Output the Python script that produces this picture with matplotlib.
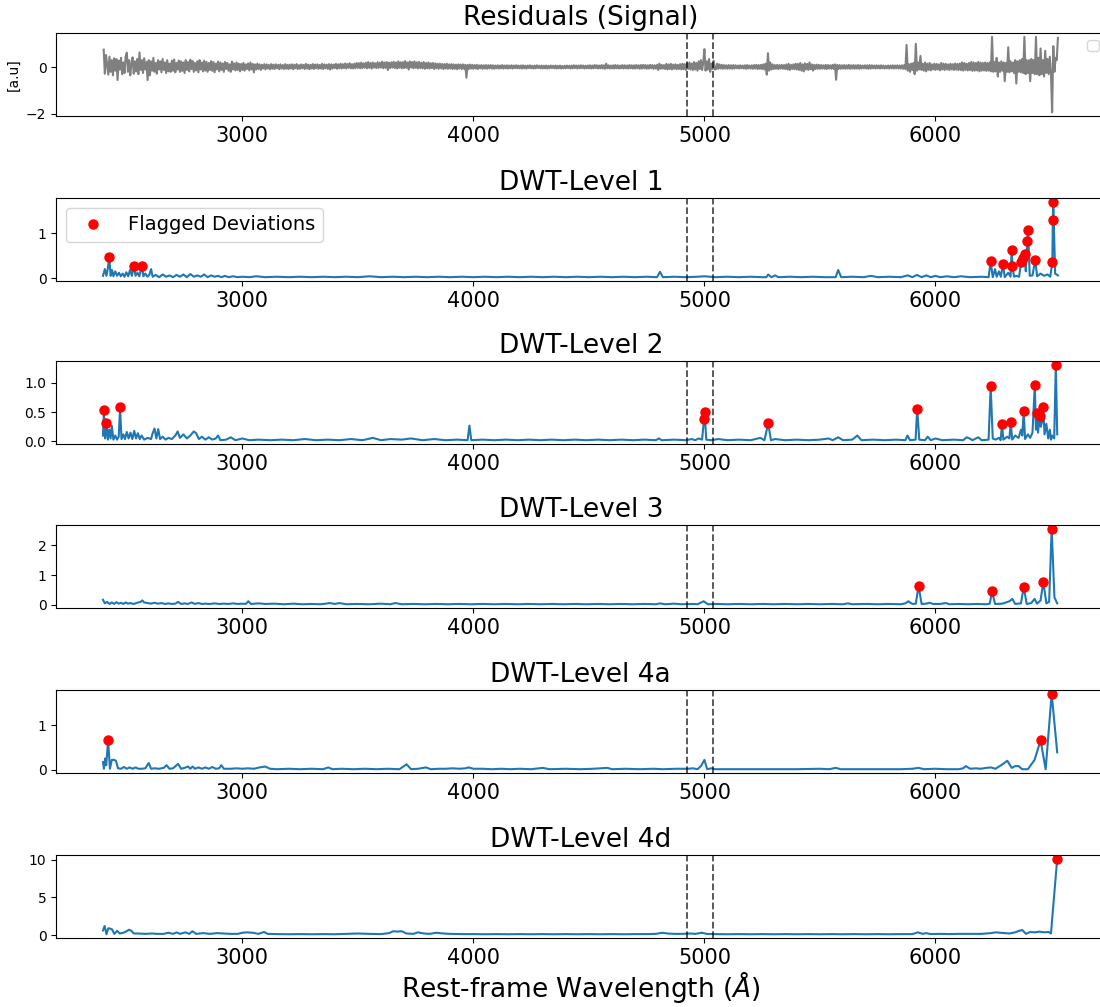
import numpy as np
import matplotlib
matplotlib.use("Agg")
import matplotlib.pyplot as plt

# residual signal, one value every 5 A from 2400 to 6530 A (one row = 50 A)
residual_start = 2400
residual_step = 5
residual_values = [
    0.75, -0.28, 0.52, 0.10, -0.32, 0.45, -0.20, 0.30, -0.35, 0.38,
    -0.15, 0.35, -0.55, 0.28, -0.10, 0.40, -0.30, 0.20, -0.25, 0.45,
    0.62, -0.20, 0.30, -0.35, 0.15, 0.42, -0.28, 0.25, -0.18, 0.35,
    -0.30, 0.63, -0.12, 0.30, -0.25, 0.38, -0.10, 0.22, -0.55, 0.30,
    -0.35, 0.25, -0.15, 0.40, -0.20, 0.18, -0.28, 0.30, -0.10, 0.25,
    -0.22, 0.35, -0.12, 0.20, -0.25, 0.30, -0.18, 0.15, -0.20, 0.28,
    -0.15, 0.33, -0.22, 0.18, -0.10, 0.28, -0.20, 0.25, -0.16, 0.20,
    -0.25, 0.30, -0.12, 0.22, -0.18, 0.32, -0.08, 0.26, -0.20, 0.18,
    -0.14, 0.25, -0.22, 0.30, -0.10, 0.20, -0.18, 0.28, -0.15, 0.22,
    -0.20, 0.18, -0.12, 0.26, -0.16, 0.22, -0.22, 0.15, -0.10, 0.24,
    -0.18, 0.20, -0.12, 0.16, -0.20, 0.22, -0.08, 0.18, -0.15, 0.12,
    -0.20, 0.24, -0.10, 0.16, -0.14, 0.20, -0.12, 0.15, -0.18, 0.14,
    -0.12, 0.18, -0.15, 0.12, -0.08, 0.16, -0.14, 0.20, -0.10, 0.14,
    -0.22, 0.12, -0.10, 0.15, -0.08, 0.12, -0.12, 0.10, -0.06, 0.13,
    -0.10, 0.12, -0.06, 0.10, -0.09, 0.13, -0.07, 0.11, -0.08, 0.12,
    -0.05, 0.10, -0.09, 0.12, -0.06, 0.09, -0.08, 0.13, -0.07, 0.10,
    -0.08, 0.11, -0.06, 0.12, -0.09, 0.10, -0.05, 0.13, -0.08, 0.09,
    -0.07, 0.12, -0.05, 0.10, -0.08, 0.14, -0.06, 0.11, -0.09, 0.10,
    -0.06, 0.13, -0.08, 0.11, -0.05, 0.12, -0.07, 0.10, -0.06, 0.14,
    -0.08, 0.12, -0.05, 0.11, -0.07, 0.13, -0.10, 0.12, -0.06, 0.11,
    -0.04, 0.14, -0.07, 0.12, -0.05, 0.15, -0.06, 0.13, -0.04, 0.16,
    -0.06, 0.14, -0.03, 0.17, -0.05, 0.13, -0.06, 0.15, -0.04, 0.18,
    -0.03, 0.17, -0.05, 0.20, -0.04, 0.16, -0.02, 0.19, -0.05, 0.22,
    -0.03, 0.18, -0.06, 0.20, -0.02, 0.17, -0.04, 0.21, -0.03, 0.19,
    -0.02, 0.24, -0.05, 0.20, -0.03, 0.22, -0.12, 0.19, -0.04, 0.21,
    -0.02, 0.23, -0.04, 0.20, -0.06, 0.25, -0.03, 0.21, -0.05, 0.22,
    -0.04, 0.26, -0.03, 0.20, -0.10, 0.24, -0.02, 0.22, -0.05, 0.25,
    -0.03, 0.21, -0.06, 0.23, -0.04, 0.19, -0.05, 0.22, -0.07, 0.18,
    -0.05, 0.20, -0.06, 0.17, -0.04, 0.18, -0.08, 0.16, -0.05, 0.15,
    -0.07, 0.15, -0.05, 0.14, -0.08, 0.13, -0.06, 0.15, -0.07, 0.12,
    -0.06, 0.13, -0.08, 0.12, -0.07, 0.11, -0.09, 0.12, -0.06, 0.11,
    -0.08, 0.12, -0.07, 0.10, -0.45, 0.10, -0.08, 0.11, -0.06, 0.10,
    -0.07, 0.09, -0.06, 0.10, -0.08, 0.08, -0.05, 0.09, -0.07, 0.08,
    -0.06, 0.09, -0.07, 0.08, -0.05, 0.09, -0.06, 0.08, -0.07, 0.07,
    -0.05, 0.08, -0.06, 0.07, -0.05, 0.09, -0.06, 0.07, -0.05, 0.08,
    -0.06, 0.07, -0.05, 0.08, -0.06, 0.07, -0.04, 0.08, -0.05, 0.07,
    -0.05, 0.07, -0.06, 0.08, -0.05, 0.06, -0.06, 0.07, -0.04, 0.08,
    -0.05, 0.06, -0.06, 0.07, -0.05, 0.08, -0.04, 0.06, -0.05, 0.07,
    -0.06, 0.06, -0.05, 0.07, -0.06, 0.06, -0.05, 0.07, -0.04, 0.06,
    -0.05, 0.07, -0.06, 0.06, -0.05, 0.07, -0.06, 0.05, -0.05, 0.06,
    -0.05, 0.07, -0.04, 0.06, -0.06, 0.07, -0.05, 0.08, -0.04, 0.07,
    -0.06, 0.07, -0.05, 0.08, -0.04, 0.07, -0.06, 0.06, -0.05, 0.07,
    -0.05, 0.08, -0.06, 0.07, -0.05, 0.09, -0.04, 0.08, -0.06, 0.07,
    -0.05, 0.09, -0.06, 0.08, -0.07, 0.15, -0.05, 0.08, -0.06, 0.07,
    -0.05, 0.08, -0.06, 0.09, -0.05, 0.08, -0.06, 0.07, -0.05, 0.09,
    -0.06, 0.08, -0.05, 0.07, -0.06, 0.09, -0.05, 0.08, -0.06, 0.08,
    -0.06, 0.09, -0.05, 0.08, -0.07, 0.09, -0.06, 0.10, -0.05, 0.09,
    -0.07, 0.08, -0.06, 0.10, -0.05, 0.09, -0.07, 0.08, -0.06, 0.10,
    -0.12, 0.15, -0.07, 0.10, -0.06, 0.09, -0.08, 0.14, -0.10, 0.12,
    -0.08, 0.14, -0.10, 0.11, -0.07, 0.12, -0.09, 0.10, -0.08, 0.13,
    -0.10, 0.15, -0.09, 0.13, -0.12, 0.18, -0.08, 0.20, -0.10, 0.16,
    -0.12, 0.22, -0.10, 0.18, -0.15, 0.25, -0.08, 0.30, -0.12, 0.20,
    0.77, -0.15, 0.25, -0.10, 0.35, -0.20, 0.15, -0.08, 0.28, -0.10,
    -0.08, 0.15, -0.07, 0.12, -0.06, 0.10, -0.07, 0.09, -0.06, 0.08,
    -0.07, 0.09, -0.06, 0.08, -0.07, 0.09, -0.06, 0.08, -0.05, 0.07,
    -0.06, 0.08, -0.05, 0.07, -0.06, 0.08, -0.07, 0.09, -0.06, 0.07,
    -0.06, 0.08, -0.07, 0.09, -0.06, 0.10, -0.08, 0.09, -0.07, 0.10,
    -0.08, 0.12, -0.10, 0.15, -0.32, 0.60, -0.15, 0.20, -0.10, 0.12,
    -0.08, 0.09, -0.07, 0.10, -0.08, 0.09, -0.06, 0.10, -0.07, 0.09,
    -0.08, 0.12, -0.10, 0.14, -0.12, 0.10, -0.08, 0.12, -0.09, 0.15,
    -0.10, 0.14, -0.12, 0.18, -0.15, 0.12, -0.18, 0.16, -0.10, 0.14,
    -0.12, 0.20, -0.09, 0.12, -0.15, 0.10, -0.08, 0.11, -0.07, 0.10,
    -0.07, 0.09, -0.06, 0.08, -0.07, 0.10, -0.08, 0.09, -0.06, 0.08,
    -0.07, 0.10, -0.08, 0.12, -0.54, 0.10, -0.08, 0.09, -0.07, 0.08,
    -0.06, 0.09, -0.07, 0.08, -0.06, 0.10, -0.07, 0.08, -0.06, 0.09,
    -0.07, 0.08, -0.06, 0.09, -0.07, 0.08, -0.06, 0.07, -0.05, 0.08,
    -0.06, 0.08, -0.07, 0.09, -0.06, 0.08, -0.05, 0.07, -0.06, 0.08,
    -0.05, 0.07, -0.06, 0.08, -0.05, 0.07, -0.06, 0.06, -0.05, 0.07,
    -0.06, 0.07, -0.05, 0.08, -0.06, 0.07, -0.05, 0.08, -0.06, 0.07,
    -0.06, 0.08, -0.07, 0.09, -0.08, 0.95, -0.15, 0.12, -0.20, 0.15,
    -0.12, 0.18, -0.30, 1.00, -0.15, 0.20, -0.10, 0.48, -0.12, 0.15,
    -0.15, 0.20, -0.18, 0.15, -0.12, 0.18, -0.14, 0.12, -0.10, 0.15,
    -0.12, 0.14, -0.10, 0.12, -0.14, 0.18, -0.10, 0.15, -0.12, 0.14,
    -0.10, 0.12, -0.12, 0.15, -0.10, 0.13, -0.12, 0.16, -0.11, 0.14,
    -0.12, 0.16, -0.13, 0.20, -0.15, 0.18, -0.12, 0.15, -0.14, 0.18,
    -0.13, 0.22, -0.16, 0.20, -0.15, 0.18, -0.14, 0.22, -0.18, 0.20,
    -0.15, 0.18, -0.14, 0.20, -0.16, 0.18, -0.15, 0.20, -0.18, 1.30,
    -0.20, 0.22, -0.18, 0.40, -0.40, 0.20, -0.20, 0.25, -0.15, 0.20,
    -0.60, 0.18, -0.20, 0.85, -0.22, 0.25, -0.18, 0.20, -0.25, 0.30,
    -0.70, 0.25, -0.20, 0.30, -0.22, 0.35, -0.25, 1.30, -0.30, 0.30,
    -0.25, 0.30, -0.60, 0.35, -0.25, 0.30, -0.30, 1.30, -0.30, 0.40,
    -0.35, 0.80, -0.30, 0.30, -0.40, 0.70, -0.25, 0.35, -0.30, 0.45,
    -0.30, -1.93, 0.90, -0.20, 0.40, 0.30, 1.25,
]

# DWT detail coefficients as (wavelength, value)
level1 = [
    (2397, 0.05), (2405, 0.20), (2412, 0.05), (2418, 0.22), (2424, 0.46), (2430, 0.05), (2436, 0.18), (2442, 0.04),
    (2450, 0.15), (2458, 0.05), (2466, 0.12), (2474, 0.04), (2482, 0.10), (2490, 0.03), (2498, 0.13), (2506, 0.04),
    (2514, 0.18), (2522, 0.05), (2530, 0.27), (2538, 0.05), (2546, 0.12), (2554, 0.04), (2565, 0.27), (2572, 0.04),
    (2580, 0.10), (2590, 0.03), (2598, 0.08), (2605, 0.20), (2612, 0.03), (2625, 0.07), (2640, 0.02), (2655, 0.08),
    (2670, 0.03), (2685, 0.06), (2700, 0.02), (2715, 0.07), (2730, 0.03), (2745, 0.08), (2760, 0.02), (2775, 0.09),
    (2790, 0.03), (2805, 0.06), (2820, 0.03), (2835, 0.08), (2850, 0.02), (2865, 0.06), (2880, 0.03), (2895, 0.05),
    (2910, 0.02), (2925, 0.05), (2940, 0.02), (2960, 0.04), (2980, 0.02), (3000, 0.03), (3030, 0.02), (3060, 0.04),
    (3100, 0.02), (3150, 0.03), (3200, 0.02), (3250, 0.03), (3300, 0.02), (3350, 0.03), (3400, 0.02), (3450, 0.03),
    (3500, 0.02), (3550, 0.04), (3600, 0.02), (3650, 0.03), (3700, 0.02), (3750, 0.03), (3800, 0.02), (3850, 0.03),
    (3900, 0.02), (3950, 0.03), (4000, 0.02), (4050, 0.03), (4100, 0.02), (4150, 0.03), (4200, 0.02), (4250, 0.03),
    (4300, 0.02), (4350, 0.03), (4400, 0.02), (4450, 0.03), (4500, 0.02), (4550, 0.03), (4600, 0.02), (4650, 0.03),
    (4700, 0.02), (4750, 0.03), (4795, 0.02), (4808, 0.14), (4820, 0.02), (4870, 0.03), (4920, 0.02), (4970, 0.03),
    (5000, 0.04), (5050, 0.02), (5100, 0.03), (5150, 0.02), (5200, 0.03), (5250, 0.02), (5268, 0.02), (5276, 0.08),
    (5290, 0.02), (5306, 0.06), (5320, 0.02), (5370, 0.03), (5420, 0.02), (5470, 0.03), (5520, 0.02), (5568, 0.02),
    (5579, 0.18), (5592, 0.02), (5640, 0.03), (5690, 0.02), (5720, 0.05), (5750, 0.02), (5800, 0.03), (5850, 0.02),
    (5880, 0.06), (5900, 0.02), (5920, 0.07), (5940, 0.02), (5960, 0.06), (5980, 0.02), (6000, 0.05), (6020, 0.02),
    (6050, 0.04), (6080, 0.02), (6110, 0.04), (6150, 0.02), (6200, 0.03), (6230, 0.02), (6239, 0.37), (6248, 0.02),
    (6258, 0.20), (6265, 0.03), (6275, 0.15), (6283, 0.03), (6292, 0.31), (6300, 0.02), (6315, 0.12), (6325, 0.03),
    (6330, 0.63), (6333, 0.28), (6340, 0.03), (6350, 0.05), (6362, 0.03), (6371, 0.36), (6379, 0.44), (6386, 0.53),
    (6391, 0.15), (6397, 0.82), (6401, 1.07), (6408, 0.05), (6420, 0.06), (6432, 0.41), (6440, 0.04), (6455, 0.10),
    (6470, 0.05), (6485, 0.08), (6497, 0.03), (6506, 0.36), (6508, 1.30), (6510, 1.70), (6518, 0.10), (6530, 0.06),
]
flags1 = [
    (2424, 0.46), (2530, 0.27), (2565, 0.27), (6239, 0.37), (6292, 0.31), (6330, 0.63), (6333, 0.28), (6371, 0.36),
    (6379, 0.44), (6386, 0.53), (6397, 0.82), (6401, 1.07), (6432, 0.41), (6506, 0.36), (6508, 1.30), (6510, 1.70),
]

level2 = [
    (2397, 0.10), (2401, 0.54), (2406, 0.05), (2412, 0.32), (2418, 0.03), (2424, 0.20), (2430, 0.05), (2435, 0.27),
    (2442, 0.03), (2450, 0.10), (2458, 0.03), (2465, 0.08), (2471, 0.58), (2477, 0.04), (2485, 0.12), (2492, 0.04),
    (2500, 0.16), (2508, 0.05), (2516, 0.15), (2524, 0.04), (2532, 0.18), (2540, 0.05), (2548, 0.14), (2556, 0.04),
    (2564, 0.10), (2575, 0.03), (2590, 0.06), (2605, 0.04), (2612, 0.14), (2620, 0.22), (2628, 0.05), (2636, 0.21),
    (2644, 0.04), (2655, 0.08), (2668, 0.03), (2680, 0.06), (2695, 0.04), (2710, 0.10), (2720, 0.17), (2730, 0.06),
    (2745, 0.12), (2760, 0.05), (2775, 0.10), (2790, 0.17), (2800, 0.14), (2812, 0.04), (2825, 0.08), (2840, 0.03),
    (2855, 0.07), (2870, 0.03), (2885, 0.05), (2895, 0.10), (2905, 0.02), (2930, 0.03), (2950, 0.07), (2970, 0.02),
    (3000, 0.05), (3030, 0.02), (3070, 0.03), (3120, 0.02), (3170, 0.03), (3220, 0.02), (3270, 0.04), (3320, 0.02),
    (3370, 0.03), (3420, 0.02), (3470, 0.04), (3520, 0.02), (3565, 0.06), (3600, 0.02), (3640, 0.04), (3690, 0.03),
    (3730, 0.05), (3780, 0.02), (3830, 0.04), (3880, 0.02), (3930, 0.03), (3975, 0.02), (3983, 0.27), (3991, 0.02),
    (4040, 0.03), (4090, 0.02), (4140, 0.03), (4190, 0.02), (4240, 0.03), (4290, 0.02), (4340, 0.03), (4390, 0.02),
    (4440, 0.03), (4490, 0.02), (4540, 0.03), (4590, 0.02), (4640, 0.03), (4690, 0.02), (4740, 0.03), (4790, 0.02),
    (4803, 0.05), (4815, 0.02), (4870, 0.03), (4920, 0.02), (4945, 0.04), (4960, 0.02), (4975, 0.05), (4990, 0.03),
    (4998, 0.38), (5001, 0.50), (5008, 0.03), (5030, 0.02), (5060, 0.04), (5100, 0.02), (5150, 0.03), (5200, 0.02),
    (5242, 0.06), (5260, 0.02), (5276, 0.31), (5288, 0.02), (5306, 0.04), (5350, 0.02), (5400, 0.03), (5450, 0.02),
    (5500, 0.03), (5538, 0.05), (5555, 0.02), (5579, 0.07), (5600, 0.02), (5640, 0.03), (5662, 0.10), (5680, 0.02),
    (5730, 0.03), (5780, 0.02), (5830, 0.03), (5870, 0.02), (5879, 0.10), (5890, 0.02), (5914, 0.03), (5921, 0.56),
    (5930, 0.03), (5955, 0.02), (5966, 0.08), (5980, 0.02), (6000, 0.05), (6030, 0.02), (6080, 0.03), (6120, 0.02),
    (6135, 0.07), (6148, 0.05), (6160, 0.02), (6185, 0.07), (6200, 0.02), (6230, 0.03), (6239, 0.94), (6248, 0.05),
    (6260, 0.03), (6275, 0.06), (6282, 0.02), (6288, 0.29), (6294, 0.03), (6310, 0.08), (6320, 0.05), (6326, 0.34),
    (6332, 0.03), (6345, 0.10), (6352, 0.08), (6360, 0.06), (6370, 0.20), (6376, 0.10), (6382, 0.52), (6388, 0.04),
    (6400, 0.12), (6410, 0.06), (6420, 0.15), (6430, 0.97), (6435, 0.20), (6439, 0.48), (6444, 0.15), (6451, 0.44),
    (6456, 0.25), (6462, 0.35), (6467, 0.58), (6472, 0.12), (6480, 0.30), (6488, 0.05), (6495, 0.20), (6500, 0.03),
    (6506, 0.10), (6514, 0.05), (6521, 1.31), (6527, 0.12),
]
flags2 = [
    (2401, 0.54), (2412, 0.32), (2471, 0.58), (4998, 0.38), (5001, 0.50), (5276, 0.31), (5921, 0.56), (6239, 0.94),
    (6288, 0.29), (6326, 0.34), (6382, 0.52), (6430, 0.97), (6439, 0.48), (6451, 0.44), (6467, 0.58), (6521, 1.31),
]

level3 = [
    (2397, 0.17), (2405, 0.05), (2415, 0.10), (2425, 0.03), (2435, 0.08), (2445, 0.03), (2455, 0.09), (2465, 0.04),
    (2475, 0.07), (2485, 0.03), (2495, 0.08), (2505, 0.04), (2515, 0.06), (2530, 0.03), (2545, 0.07), (2560, 0.10),
    (2567, 0.15), (2575, 0.08), (2590, 0.06), (2605, 0.04), (2620, 0.07), (2635, 0.04), (2650, 0.06), (2665, 0.03),
    (2680, 0.05), (2695, 0.03), (2710, 0.04), (2722, 0.10), (2735, 0.03), (2750, 0.05), (2765, 0.03), (2780, 0.08),
    (2795, 0.03), (2810, 0.06), (2825, 0.03), (2840, 0.04), (2860, 0.03), (2880, 0.05), (2900, 0.03), (2920, 0.04),
    (2940, 0.03), (2960, 0.05), (2980, 0.03), (3000, 0.04), (3015, 0.03), (3026, 0.12), (3038, 0.03), (3070, 0.05),
    (3100, 0.03), (3140, 0.04), (3180, 0.02), (3220, 0.04), (3260, 0.02), (3300, 0.03), (3340, 0.02), (3380, 0.06),
    (3400, 0.03), (3420, 0.06), (3450, 0.02), (3500, 0.03), (3550, 0.02), (3600, 0.04), (3640, 0.02), (3662, 0.06),
    (3690, 0.02), (3740, 0.03), (3790, 0.02), (3840, 0.03), (3890, 0.02), (3940, 0.03), (3990, 0.02), (4040, 0.03),
    (4090, 0.02), (4140, 0.03), (4190, 0.02), (4240, 0.03), (4290, 0.02), (4340, 0.03), (4390, 0.02), (4440, 0.03),
    (4490, 0.02), (4540, 0.03), (4590, 0.02), (4640, 0.03), (4690, 0.02), (4740, 0.03), (4790, 0.02), (4808, 0.05),
    (4830, 0.02), (4870, 0.04), (4900, 0.02), (4950, 0.03), (4970, 0.02), (4997, 0.12), (5015, 0.02), (5050, 0.03),
    (5100, 0.02), (5150, 0.03), (5200, 0.02), (5250, 0.03), (5300, 0.02), (5350, 0.03), (5400, 0.02), (5450, 0.03),
    (5500, 0.02), (5550, 0.03), (5600, 0.02), (5621, 0.05), (5640, 0.02), (5700, 0.03), (5750, 0.02), (5800, 0.03),
    (5850, 0.02), (5870, 0.05), (5882, 0.12), (5900, 0.03), (5915, 0.04), (5927, 0.64), (5940, 0.03), (5960, 0.04),
    (5975, 0.07), (5990, 0.03), (6020, 0.03), (6045, 0.06), (6060, 0.02), (6100, 0.03), (6140, 0.02), (6180, 0.03),
    (6220, 0.02), (6235, 0.04), (6245, 0.45), (6258, 0.03), (6290, 0.04), (6320, 0.12), (6333, 0.20), (6345, 0.03),
    (6370, 0.05), (6382, 0.60), (6395, 0.03), (6415, 0.06), (6429, 0.20), (6440, 0.04), (6455, 0.15), (6467, 0.78),
    (6480, 0.05), (6492, 0.10), (6503, 2.55), (6515, 0.25), (6527, 0.05),
]
flags3 = [(5927, 0.64), (6245, 0.45), (6382, 0.60), (6467, 0.78), (6503, 2.55)]

level4a = [
    (2397, 0.17), (2401, 0.02), (2406, 0.25), (2411, 0.10), (2419, 0.66), (2427, 0.02), (2435, 0.22), (2445, 0.22),
    (2453, 0.20), (2462, 0.03), (2475, 0.02), (2487, 0.06), (2500, 0.02), (2512, 0.05), (2525, 0.02), (2538, 0.05),
    (2550, 0.02), (2565, 0.02), (2580, 0.03), (2595, 0.15), (2605, 0.02), (2620, 0.03), (2640, 0.02), (2660, 0.04),
    (2672, 0.10), (2685, 0.02), (2700, 0.03), (2722, 0.13), (2735, 0.02), (2750, 0.04), (2765, 0.07), (2775, 0.02),
    (2785, 0.07), (2795, 0.02), (2810, 0.05), (2825, 0.02), (2840, 0.05), (2855, 0.02), (2870, 0.06), (2885, 0.02),
    (2900, 0.03), (2909, 0.10), (2920, 0.02), (2950, 0.02), (2975, 0.03), (3000, 0.02), (3025, 0.03), (3050, 0.02),
    (3075, 0.05), (3099, 0.07), (3120, 0.02), (3150, 0.01), (3200, 0.02), (3250, 0.01), (3300, 0.02), (3350, 0.01),
    (3372, 0.05), (3390, 0.01), (3430, 0.02), (3480, 0.01), (3530, 0.02), (3580, 0.01), (3630, 0.02), (3680, 0.01),
    (3711, 0.12), (3730, 0.01), (3760, 0.02), (3795, 0.05), (3815, 0.01), (3850, 0.02), (3880, 0.02), (3910, 0.03),
    (3940, 0.02), (3965, 0.03), (3980, 0.05), (4000, 0.02), (4040, 0.02), (4080, 0.01), (4120, 0.02), (4160, 0.01),
    (4200, 0.02), (4250, 0.01), (4300, 0.04), (4330, 0.01), (4400, 0.02), (4460, 0.01), (4520, 0.02), (4580, 0.04),
    (4600, 0.01), (4660, 0.02), (4720, 0.01), (4780, 0.02), (4820, 0.01), (4880, 0.02), (4930, 0.02), (4950, 0.03),
    (4970, 0.01), (4985, 0.08), (5000, 0.22), (5012, 0.01), (5030, 0.03), (5045, 0.01), (5100, 0.01), (5200, 0.01),
    (5300, 0.01), (5400, 0.01), (5500, 0.02), (5540, 0.01), (5568, 0.04), (5590, 0.01), (5650, 0.01), (5750, 0.01),
    (5850, 0.01), (5900, 0.02), (5927, 0.04), (5950, 0.01), (6000, 0.02), (6050, 0.01), (6100, 0.01), (6120, 0.03),
    (6132, 0.08), (6150, 0.02), (6175, 0.03), (6195, 0.02), (6220, 0.04), (6240, 0.05), (6260, 0.02), (6290, 0.12),
    (6311, 0.20), (6330, 0.04), (6345, 0.08), (6360, 0.08), (6375, 0.01), (6400, 0.01), (6429, 0.22), (6455, 0.66),
    (6477, 0.01), (6503, 1.71), (6527, 0.39),
]
flags4a = [(2419, 0.66), (6455, 0.66), (6503, 1.71)]

level4d = [
    (2397, 0.60), (2404, 1.20), (2412, 0.10), (2420, 0.90), (2427, 0.85), (2436, 0.75), (2446, 0.15), (2458, 0.55),
    (2470, 0.20), (2485, 0.30), (2496, 0.45), (2510, 0.70), (2520, 0.55), (2530, 0.20), (2550, 0.20), (2580, 0.15),
    (2610, 0.20), (2630, 0.15), (2660, 0.15), (2680, 0.30), (2700, 0.15), (2716, 0.35), (2730, 0.15), (2754, 0.35),
    (2770, 0.15), (2784, 0.50), (2800, 0.15), (2830, 0.25), (2860, 0.15), (2890, 0.25), (2920, 0.20), (2950, 0.15),
    (2980, 0.15), (3000, 0.30), (3020, 0.35), (3045, 0.30), (3070, 0.15), (3094, 0.40), (3110, 0.15), (3150, 0.12),
    (3200, 0.10), (3250, 0.12), (3300, 0.10), (3350, 0.12), (3400, 0.10), (3450, 0.15), (3500, 0.20), (3550, 0.15),
    (3600, 0.12), (3635, 0.25), (3653, 0.50), (3672, 0.45), (3690, 0.50), (3710, 0.20), (3740, 0.15), (3760, 0.35),
    (3785, 0.20), (3810, 0.15), (3840, 0.30), (3870, 0.20), (3900, 0.15), (3950, 0.12), (4000, 0.12), (4050, 0.10),
    (4100, 0.12), (4150, 0.10), (4200, 0.12), (4250, 0.10), (4300, 0.12), (4350, 0.10), (4400, 0.12), (4450, 0.10),
    (4500, 0.12), (4550, 0.10), (4600, 0.12), (4650, 0.10), (4700, 0.12), (4750, 0.12), (4790, 0.15), (4818, 0.30),
    (4840, 0.20), (4870, 0.15), (4900, 0.15), (4940, 0.20), (4960, 0.15), (4989, 0.30), (5010, 0.15), (5040, 0.12),
    (5100, 0.10), (5150, 0.12), (5200, 0.10), (5250, 0.12), (5300, 0.10), (5350, 0.12), (5400, 0.10), (5450, 0.12),
    (5500, 0.10), (5550, 0.12), (5600, 0.10), (5650, 0.12), (5700, 0.10), (5750, 0.12), (5800, 0.10), (5850, 0.12),
    (5900, 0.12), (5924, 0.35), (5945, 0.15), (5960, 0.25), (5980, 0.12), (6020, 0.15), (6060, 0.12), (6100, 0.15),
    (6150, 0.15), (6200, 0.15), (6240, 0.25), (6260, 0.35), (6280, 0.30), (6300, 0.25), (6320, 0.20), (6345, 0.35),
    (6362, 0.55), (6376, 0.65), (6392, 0.15), (6410, 0.40), (6430, 0.35), (6450, 0.45), (6470, 0.35), (6490, 0.40),
    (6500, 0.20), (6527, 10.10),
]
flags4d = [(6527, 10.10)]

titles = ["DWT-Level 1", "DWT-Level 2", "DWT-Level 3", "DWT-Level 4a", "DWT-Level 4d"]
level_yticks = [[0, 1], [0.0, 0.5, 1.0], [0, 1, 2], [0, 1], [0, 5, 10]]
window = [4926, 5039]  # dashed markers


def add_window(ax):
    for w in window:
        ax.axvline(w, color="k", linestyle="--", alpha=0.7, linewidth=1.3)


def main():
    fig = plt.figure(figsize=(11, 10.07), dpi=100)
    left, width, height = 0.051, 0.954, 0.0824
    bottoms = [0.8848, 0.7210, 0.5591, 0.3962, 0.2324, 0.0685]
    axes = [fig.add_axes([left, b, width, height]) for b in bottoms]

    # top panel: residual signal
    ax = axes[0]
    res_wave = residual_start + residual_step * np.arange(len(residual_values))
    ax.plot(res_wave, residual_values, color="gray")
    add_window(ax)
    ax.set_title("Residuals (Signal)", fontsize=19)
    ax.set_ylabel("[a.u]", fontsize=10)
    ax.legend(handles=[], loc="upper right")
    ax.tick_params(axis="x", labelsize=15)

    levels = [level1, level2, level3, level4a, level4d]
    flags = [flags1, flags2, flags3, flags4a, flags4d]
    for i, (ax, lev, fl) in enumerate(zip(axes[1:], levels, flags)):
        w, v = zip(*lev)
        fw, fv = zip(*fl)
        ax.plot(w, v, color="#1f77b4")
        ax.plot(fw, fv, "o", color="red", markersize=6.5, label="Flagged Deviations")
        add_window(ax)
        ax.set_title(titles[i], fontsize=19)
        ax.set_yticks(level_yticks[i])
        ax.tick_params(axis="x", labelsize=15)
        if i == 0:
            ax.legend(loc="upper left", fontsize=14)

    for ax in axes:
        ax.set_xlim(2194, 6736)

    axes[-1].set_xlabel(r"Rest-frame Wavelength ($\AA$)", fontsize=19, labelpad=1)
    fig.savefig("out.png", dpi=100)


if __name__ == "__main__":
    main()
